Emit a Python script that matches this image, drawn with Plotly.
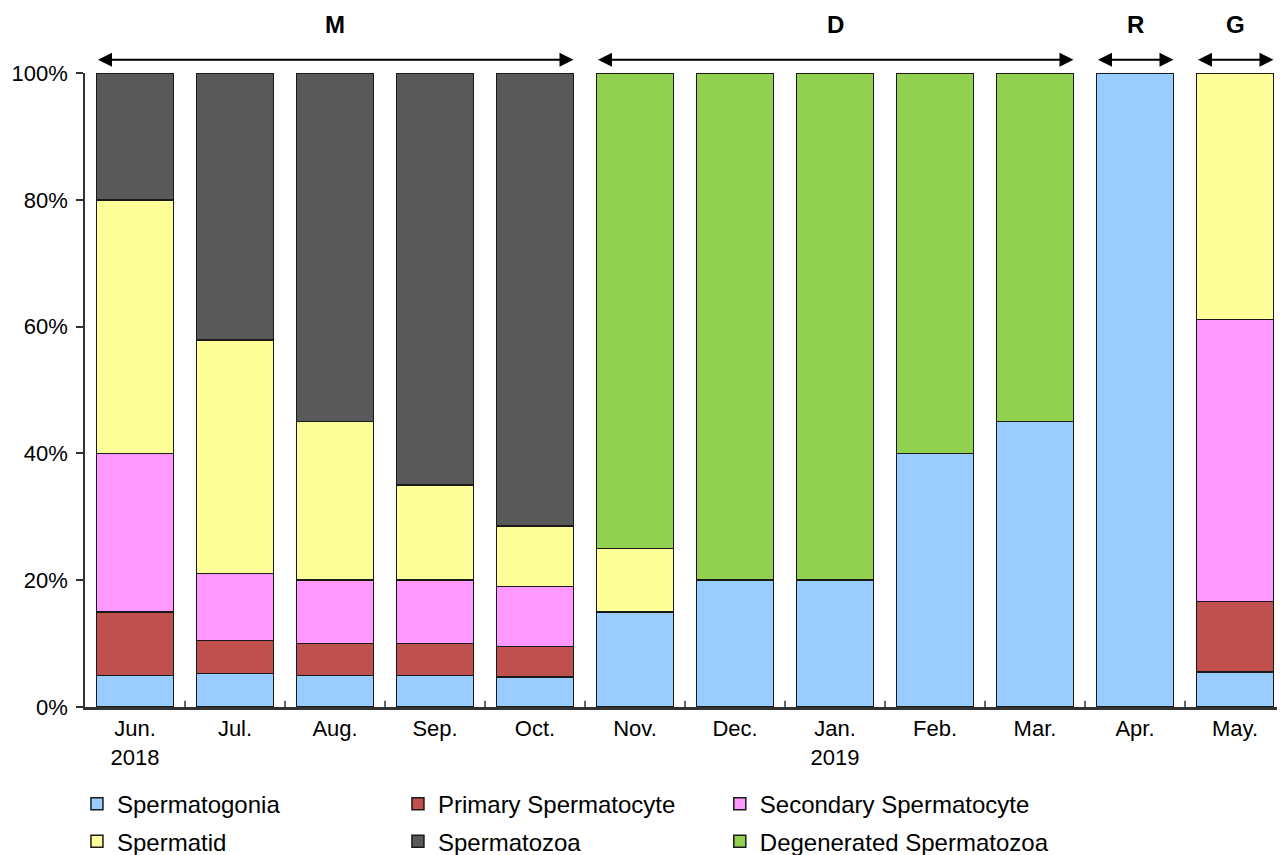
import plotly.graph_objects as go

months = ["Jun.<br>2018", "Jul.", "Aug.", "Sep.", "Oct.", "Nov.", "Dec.",
          "Jan.<br>2019", "Feb.", "Mar.", "Apr.", "May."]

spermatogonia = [5, 5.26, 5, 5, 4.76, 15, 20, 20, 40, 45, 100, 5.56]
primary_spermatocyte = [10, 5.26, 5, 5, 4.76, None, None, None, None, None, None, 11.11]
secondary_spermatocyte = [25, 10.53, 10, 10, 9.52, None, None, None, None, None, None, 44.44]
spermatid = [40, 36.84, 25, 15, 9.52, 10, None, None, None, None, None, 38.89]
spermatozoa = [20, 42.11, 55, 65, 71.44, None, None, None, None, None, None, None]
degenerated_spermatozoa = [None, None, None, None, None, 75, 80, 80, 60, 55, None, None]

series_names = ["Spermatogonia", "Primary Spermatocyte", "Secondary Spermatocyte",
                "Spermatid", "Spermatozoa", "Degenerated Spermatozoa"]
series_values = [spermatogonia, primary_spermatocyte, secondary_spermatocyte,
                 spermatid, spermatozoa, degenerated_spermatozoa]
series_colors = ["#99CCFF", "#C0504D", "#FF99FF", "#FFFF99", "#595959", "#92D050"]

phase_labels = ["M", "D", "R", "G"]
phase_start = [0, 5, 10, 11]
phase_end = [4, 9, 10, 11]

FONT = "Liberation Sans, Arial, sans-serif"

# legend placement: 3 columns x 2 rows
legend_cols_x = [-0.0067, 0.2608, 0.529]
legend_rows_y = [-0.1534, -0.2125]

fig = go.Figure()
legend_layouts = {}
for k, (name, vals, col) in enumerate(zip(series_names, series_values, series_colors)):
    lg = "legend" if k == 0 else "legend%d" % (k + 1)
    fig.add_trace(go.Bar(
        x=list(range(len(months))), y=[None if v is None else v / 100 for v in vals],
        name=name, width=0.77, legend=lg,
        marker=dict(color=col, line=dict(color="#1a1a1a", width=1.5)),
    ))
    legend_layouts[lg] = dict(
        orientation="h", x=legend_cols_x[k % 3], y=legend_rows_y[k // 3],
        xanchor="left", yanchor="middle",
        font=dict(family=FONT, size=24, color="black"),
        itemwidth=30, bgcolor="rgba(0,0,0,0)")

for lab, s, e in zip(phase_labels, phase_start, phase_end):
    x0 = s - 0.385
    x1 = e + 0.385
    fig.add_annotation(x=x1, y=1.021, ax=x0, ay=1.021, xref="x", yref="y domain",
                       axref="x", ayref="y domain", text="", showarrow=True,
                       arrowhead=2, arrowside="end+start", arrowsize=1.4,
                       arrowwidth=2, arrowcolor="black")
    fig.add_annotation(x=(s + e) / 2, y=1.0767, xref="x", yref="y domain",
                       yanchor="middle", xanchor="center", borderpad=0,
                       text="<b>%s</b>" % lab, showarrow=False,
                       font=dict(family=FONT, size=24, color="black"))

fig.update_layout(
    width=1277, height=847,
    margin=dict(l=77, r=0, t=65, b=148, autoexpand=False),
    plot_bgcolor="white", paper_bgcolor="white",
    barmode="stack",
    font=dict(family=FONT, size=22, color="black"),
    showlegend=True,
    **legend_layouts,
)
fig.update_xaxes(
    tickmode="array", tickvals=list(range(len(months))), ticktext=months,
    range=[-0.5, 11.5], showline=True, linecolor="#333333", linewidth=2.5,
    ticks="", showgrid=False, zeroline=False, automargin=False,
    ticklabelstandoff=0,
    tickfont=dict(family=FONT, size=22, color="black"),
)
for i in range(len(months) - 1):
    fig.add_shape(type="line", x0=i + 0.5, x1=i + 0.5, y0=0, y1=0.01,
                  xref="x", yref="paper", line=dict(color="#333333", width=1.5))
fig.update_yaxes(
    range=[0, 1], tickvals=[0, 0.2, 0.4, 0.6, 0.8, 1.0],
    ticktext=["0%", "20%", "40%", "60%", "80%", "100%"],
    showline=True, linecolor="#333333", linewidth=1.5,
    ticks="outside", ticklen=7, tickcolor="#333333", tickwidth=1.5,
    showgrid=False, zeroline=False, automargin=False,
    ticklabelstandoff=4,
    tickfont=dict(family=FONT, size=22, color="black"),
)

fig.write_html("out.html")
